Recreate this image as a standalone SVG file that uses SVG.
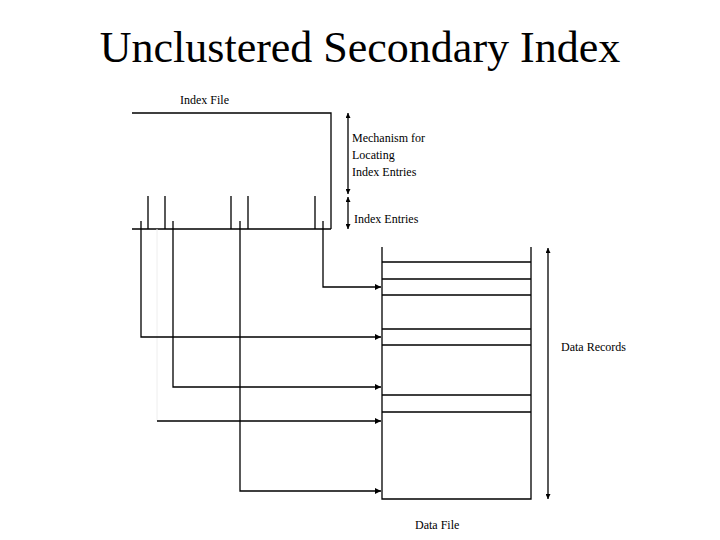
<svg xmlns="http://www.w3.org/2000/svg" width="720" height="540" viewBox="0 0 720 540">
<style>
.ln{stroke:#000;stroke-width:1.3;fill:none}
.t{font-family:"Liberation Serif","Times New Roman",serif;font-size:12px;fill:#000}
.title{font-family:"Liberation Serif","Times New Roman",serif;font-size:44px;fill:#000}
</style>
<defs>
<marker id="ah" viewBox="0 0 6 6" refX="6" refY="3" markerWidth="6" markerHeight="6" markerUnits="userSpaceOnUse" orient="auto">
<path d="M0,0 L6,3 L0,6 z" fill="#000"/>
</marker>
<marker id="ahs" viewBox="0 0 6 6" refX="6" refY="3" markerWidth="5" markerHeight="5" markerUnits="userSpaceOnUse" orient="auto-start-reverse">
<path d="M0,0 L6,3 L0,6 z" fill="#000"/>
</marker>
</defs>
<rect width="720" height="540" fill="#fff"/>
<text class="title" x="360" y="62" text-anchor="middle">Unclustered Secondary Index</text>

<g id="index-file">
<text class="t" x="180" y="104">Index File</text>
<path class="ln" d="M132,113 H331 V229 M132,229 H331"/>
<path class="ln" d="M148,196 V229 M165,196 V229 M231,196 V229 M248,196 V229 M315,196 V229"/>
</g>

<g id="mechanism-label">
<line class="ln" x1="348" y1="113" x2="348" y2="194" marker-start="url(#ahs)" marker-end="url(#ahs)"/>
<text class="t" x="352" y="142">Mechanism for</text>
<text class="t" x="352" y="159">Locating</text>
<text class="t" x="352" y="176">Index Entries</text>
</g>

<g id="entries-label">
<line class="ln" x1="348" y1="197" x2="348" y2="229" marker-start="url(#ahs)" marker-end="url(#ahs)"/>
<text class="t" x="354" y="223">Index Entries</text>
</g>

<g id="data-file">
<path class="ln" d="M382,247 V499 H531 V247"/>
<path class="ln" d="M382,262 H531 M382,279 H531 M382,295 H531 M382,329 H531 M382,345 H531 M382,395 H531 M382,412 H531"/>
<text class="t" x="415" y="529">Data File</text>
</g>

<g id="data-records-label">
<line class="ln" x1="548" y1="248" x2="548" y2="499" marker-start="url(#ahs)" marker-end="url(#ahs)"/>
<text class="t" x="561" y="351">Data Records</text>
</g>

<g id="connectors">
<line x1="157" y1="229" x2="157" y2="421" stroke="#eeeeee" stroke-width="1"/>
<path class="ln" d="M323,221 V287 H381" marker-end="url(#ah)"/>
<path class="ln" d="M141,221 V337 H381" marker-end="url(#ah)"/>
<path class="ln" d="M173,221 V387 H381" marker-end="url(#ah)"/>
<path class="ln" d="M157,421 H381" marker-end="url(#ah)"/>
<path class="ln" d="M240,221 V491 H381" marker-end="url(#ah)"/>
</g>
</svg>
